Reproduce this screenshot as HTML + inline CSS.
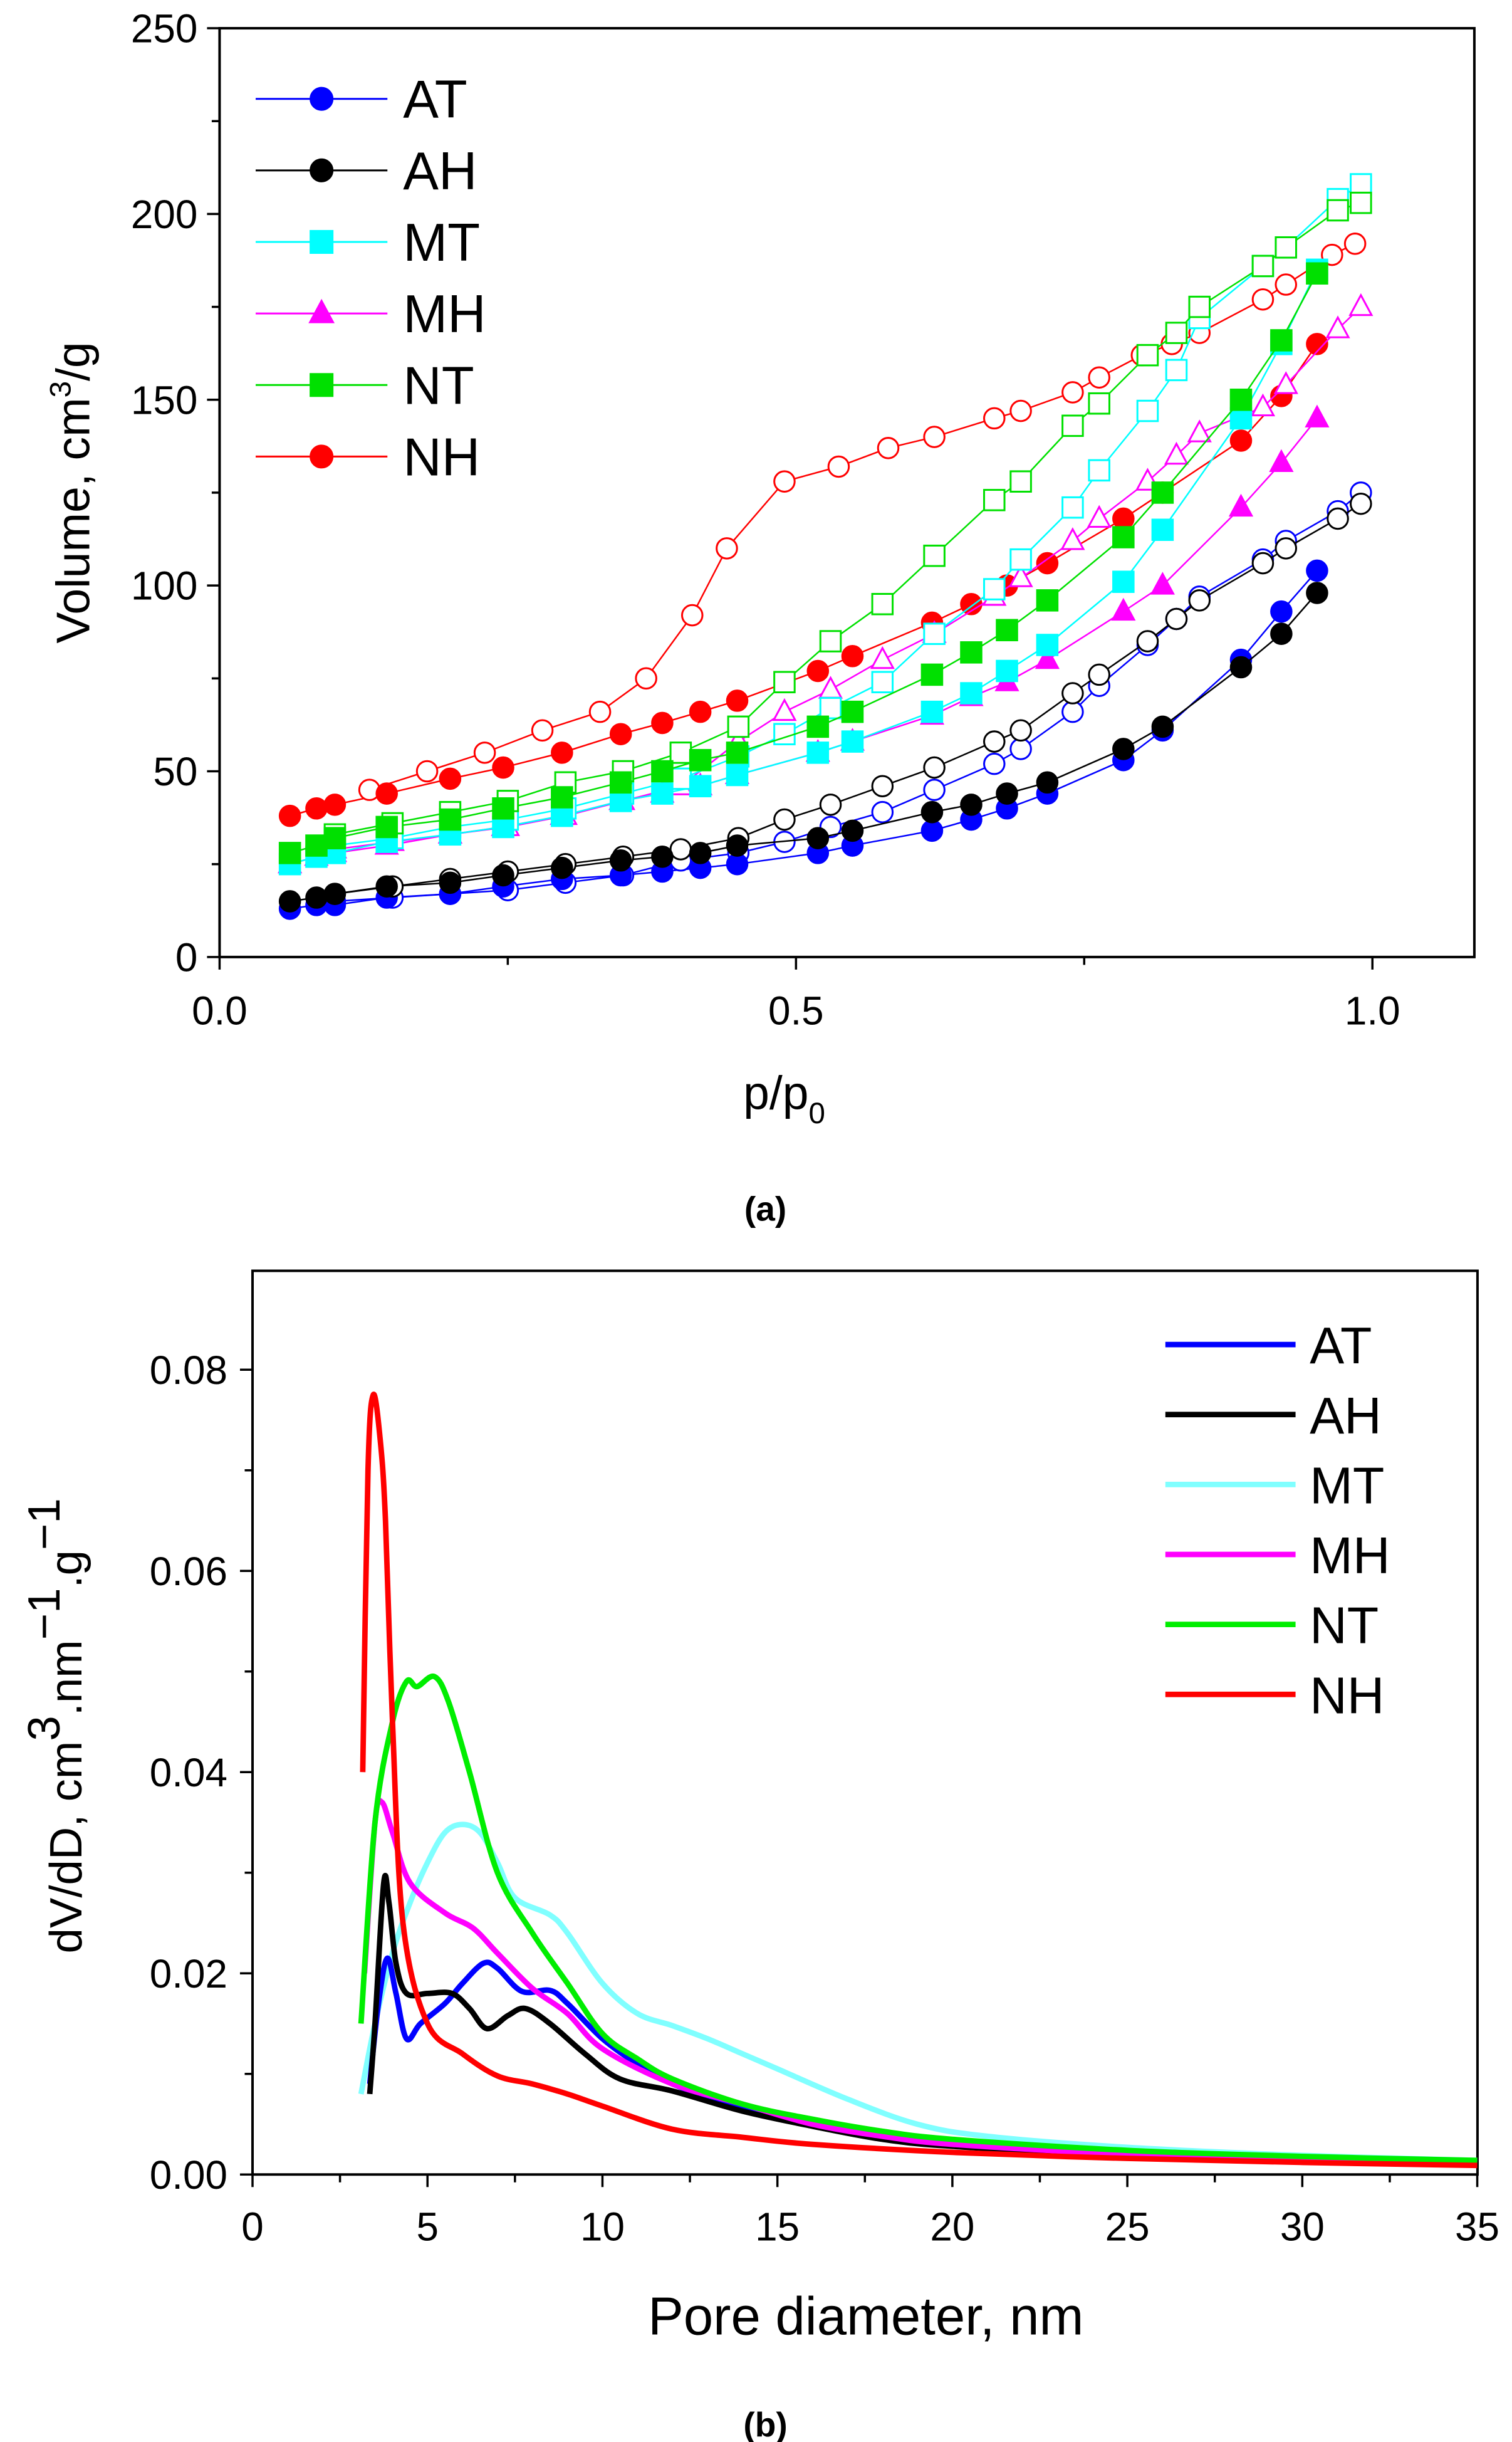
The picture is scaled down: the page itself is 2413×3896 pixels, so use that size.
<!DOCTYPE html>
<html><head><meta charset="utf-8"><style>
html,body{margin:0;padding:0;background:#fff}
svg{display:block}
text{font-family:"Liberation Sans",Arial,sans-serif}
</style></head><body>
<svg id="s" width="2413" height="3896" viewBox="0 0 964 1556.5" preserveAspectRatio="none" xmlns="http://www.w3.org/2000/svg">
<text x="488" y="778" text-anchor="middle" font-family="Liberation Serif" font-size="22" font-weight="bold">(a)</text>
<text x="488" y="1553" text-anchor="middle" font-family="Liberation Serif" font-size="22" font-weight="bold">(b)</text>
</svg>
<script>
// ---------- Chart A data ----------
const seriesNames=["AT","AH","MT","MH","NT","NH"];
const seriesColors=["#0000ff","#000000","#00ffff","#ff00ff","#00e000","#ff0000"];
const seriesMarkers=["circle","circle","square","triangle","square","circle"];
const adsP=[.061,.084,.100,.145,.200,.246,.297,.348,.384,.417,.449,.519,.549,.618,.652,.683,.718,.784,.818,.886,.921,.952];
const adsAT=[13,14,14,16,17,19,21,22,23,24,25,28,30,34,37,40,44,53,61,80,93,104];
const adsAH=[15,16,17,19,20,22,24,26,27,28,30,32,34,39,41,44,47,56,62,78,87,98];
const adsMT=[25,27,28,31,33,35,38,42,44,46,49,55,58,66,71,77,84,101,115,145,165,185];
const adsMH=[25,27,28,30,33,35,38,42,44,46,49,55,58,65,70,74,80,93,100,121,133,145];
const adsNT=[28,30,32,35,37,40,43,47,50,53,55,62,66,76,82,88,96,113,125,150,166,184];
const adsNH=[38,40,41,44,48,51,55,60,63,66,69,77,81,90,95,100,106,118,125,139,151,165];
const desP=[.99,.97,.925,.905,.85,.83,.805,.763,.74,.695,.672,.62,.575,.53,.49,.45,.40,.35,.30,.25,.20,.15,.10];
const desAT=[125,120,112,107,97,91,84,73,66,56,52,45,39,35,31,28,26,22,20,18,17,16,15];
const desAH=[122,118,110,106,96,91,85,76,71,61,58,51,46,41,37,32,29,27,25,23,21,19,17];
const desMT=[208,204,191,186,172,158,147,131,121,107,99,87,74,67,60,54,48,44,40,37,35,32,30];
const desMH=[175,169,154,148,141,135,128,118,112,102,97,87,80,72,66,58,46,42,38,35,33,31,29];
const desNT=[203,201,191,186,175,168,162,149,143,128,123,108,95,85,74,62,55,50,47,42,39,36,33];
const desNHp=[.985,.965,.925,.905,.85,.826,.80,.763,.74,.695,.672,.62,.58,.537,.49,.44,.41,.37,.33,.28,.23,.18,.13];
const desNH=[192,189,181,177,168,165,162,156,152,147,145,140,137,132,128,110,92,75,66,61,55,50,45];
const aYTicks=["0","50","100","150","200","250"];
const aXTicks=["0.0","0.5","1.0"];

// ---------- Chart B data ----------
const bAT_d=[3.35,3.6,3.85,4.1,4.4,4.8,5.5,6,6.6,7,7.7,8.5,9,10,11,12,14,16,18,20,25,30,35];
const bAT_v=[.009,.017,.0215,.018,.0135,.015,.017,.019,.021,.0205,.0182,.0183,.017,.0135,.011,.009,.0065,.005,.0037,.003,.002,.0015,.0012];
const bAH_d=[3.35,3.5,3.75,3.9,4.1,4.4,5,5.7,6.2,6.7,7.3,7.8,8.5,9.5,10.5,12,14,16,18,20,25,30,35];
const bAH_v=[.008,.015,.029,.027,.021,.018,.018,.018,.0165,.0145,.0158,.0165,.015,.012,.0095,.0083,.0063,.0048,.0035,.0028,.0019,.0014,.001];
const bMT_d=[3.1,3.5,4,4.5,5,5.5,6,6.5,7,7.5,8.5,9,10,11,12,13,14,15,17,19,21,25,30,35];
const bMT_v=[.008,.015,.022,.027,.031,.034,.0348,.034,.031,.0275,.0258,.024,.019,.016,.0148,.0135,.012,.0105,.0075,.005,.0038,.0027,.0019,.0014];
const bMH_d=[3.2,3.5,3.7,4,4.5,5.5,6.3,7,8,9,10,12,14,16,18,20,25,30,35];
const bMH_v=[.02,.035,.037,.034,.029,.026,.0245,.022,.0185,.016,.0125,.009,.007,.005,.0038,.003,.002,.0015,.0012];
const bNT_d=[3.1,3.5,4,4.4,4.7,5.2,5.6,6.2,7,8,9,10,11,12,14,16,18,20,25,30,35];
const bNT_v=[.015,.035,.045,.049,.0485,.0495,.047,.04,.03,.024,.019,.014,.0115,.0095,.007,.0055,.0043,.0035,.0024,.0018,.0014];
const bNH_d=[3.15,3.3,3.45,3.65,3.8,4.0,4.3,5,6,7,8,9,10,12,14,16,20,25,30,35];
const bNH_v=[.040,.070,.0775,.073,.065,.045,.025,.015,.012,.0098,.009,.008,.0068,.0045,.0037,.003,.0022,.0016,.0012,.0009];
const bColors=["#0000ff","#000000","#80ffff","#ff00ff","#00ee00","#ff0000"];
const bYTicks=["0.00","0.02","0.04","0.06","0.08"];
const bXTicks=["0","5","10","15","20","25","30","35"];

const NS="http://www.w3.org/2000/svg";
const svg=document.getElementById('s');
function mk(tag,attrs,parent){const e=document.createElementNS(NS,tag);for(const k in attrs)e.setAttribute(k,attrs[k]);(parent||svg).appendChild(e);return e;}

const AL=140,AR=940,AT_=18,AB=610;
const ax=p=>AL+p*735, ay=v=>AB-v*2.368;
const BL=161,BR=942,BT=810,BB=1386;
const bx=d=>BL+d*22.31, by=v=>BB-v*6412;

// ---- Chart A ----
const ga=mk('g',{});


let fr=mk('rect',{x:AL,y:AT_,width:AR-AL,height:AB-AT_,fill:'none',stroke:'#000','stroke-width':1.6},ga);

for(let v=0;v<=250;v+=25){const major=v%50===0;mk('line',{x1:AL-(major?8:5),x2:AL,y1:ay(v),y2:ay(v),stroke:'#000','stroke-width':1.4},ga);}
aYTicks.forEach(t=>{const e=mk('text',{x:AL-14,y:ay(+t)+9,'text-anchor':'end','font-size':25.5},ga);e.textContent=t;
});
for(let p=0;p<=1.0001;p+=0.25){const major=Math.abs(p*2-Math.round(p*2))<1e-6;mk('line',{x1:ax(p),x2:ax(p),y1:AB,y2:AB+(major?8:5),stroke:'#000','stroke-width':1.4},ga);}
aXTicks.forEach(t=>{const e=mk('text',{x:ax(+t),y:AB+43,'text-anchor':'middle','font-size':25.5},ga);e.textContent=t;
});
let yt=mk('text',{x:0,y:0,transform:'translate(57,314) rotate(-90)','text-anchor':'middle','font-size':30},ga);
yt.innerHTML='Volume, cm<tspan dy="-12" font-size="19">3</tspan><tspan dy="12">/g</tspan>';

let xt=mk('text',{x:500,y:707,'text-anchor':'middle','font-size':30},ga);
xt.innerHTML='p/p<tspan dy="9" font-size="19">0</tspan>';


function marker(g,type,x,y,color,filled,r){
  const fill=filled?color:'#fff';let e;
  if(type==='circle')e=mk('circle',{cx:x,cy:y,r:r,fill:fill,stroke:color,'stroke-width':1.2},g);
  else if(type==='square')e=mk('rect',{x:x-r,y:y-r,width:2*r,height:2*r,fill:fill,stroke:color,'stroke-width':1.2},g);
  else e=mk('polygon',{points:`${x},${y-r*1.15} ${x+r*1.05},${y+r*0.8} ${x-r*1.05},${y+r*0.8}`,fill:fill,stroke:color,'stroke-width':1.2},g);
  return e;
}
const adsAll=[adsAT,adsAH,adsMT,adsMH,adsNT,adsNH];
const desAll=[desAT,desAH,desMT,desMH,desNT,desNH];
const order=[5,0,1,3,2,4];
order.forEach(i=>{
  const g=mk('g',{},ga);
  
  
  const c=seriesColors[i];
  const dp=i===5?desNHp:desP;
  const dl=mk('polyline',{points:dp.map((p,k)=>ax(p)+','+ay(desAll[i][k])).join(' '),fill:'none',stroke:c,'stroke-width':1},g);
  
  const al=mk('polyline',{points:adsP.map((p,k)=>ax(p)+','+ay(adsAll[i][k])).join(' '),fill:'none',stroke:c,'stroke-width':1},g);
  
  dp.forEach((p,k)=>{const m=marker(g,seriesMarkers[i],ax(p),ay(desAll[i][k]),c,false,6.5);
    });
  adsP.forEach((p,k)=>{const m=marker(g,seriesMarkers[i],ax(p),ay(adsAll[i][k]),c,true,6.5);
    });
});
seriesNames.forEach((n,i)=>{
  const y=63+i*45.6;
  const g=mk('g',{},ga);
  
  
  mk('line',{x1:163,x2:247,y1:y,y2:y,stroke:seriesColors[i],'stroke-width':1.2},g);
  marker(g,seriesMarkers[i],205,y,seriesColors[i],true,7);
  const t=mk('text',{x:257,y:y+12,'font-size':34},g);t.textContent=n;
});

// ---- Chart B ----
const gb=mk('g',{});


fr=mk('rect',{x:BL,y:BT,width:BR-BL,height:BB-BT,fill:'none',stroke:'#000','stroke-width':1.6},gb);

for(let k=0;k<=8;k++){const v=k*0.01;const major=k%2===0;mk('line',{x1:BL-(major?8:5),x2:BL,y1:by(v),y2:by(v),stroke:'#000','stroke-width':1.4},gb);}
bYTicks.forEach(t=>{const e=mk('text',{x:BL-16,y:by(+t)+9,'text-anchor':'end','font-size':25.5},gb);e.textContent=t;
});
for(let k=0;k<=14;k++){const d=k*2.5;const major=k%2===0;mk('line',{x1:bx(d),x2:bx(d),y1:BB,y2:BB+(major?8:5),stroke:'#000','stroke-width':1.4},gb);}
bXTicks.forEach(t=>{const e=mk('text',{x:bx(+t),y:BB+42,'text-anchor':'middle','font-size':25.5},gb);e.textContent=t;
});
yt=mk('text',{x:0,y:0,transform:'translate(52,1100) rotate(-90)','text-anchor':'middle','font-size':29},gb);
yt.innerHTML='dV/dD, cm<tspan dy="-14">3</tspan><tspan dy="14">.nm</tspan><tspan dy="-14">−1</tspan><tspan dy="14">.g</tspan><tspan dy="-14">−1</tspan>';

xt=mk('text',{x:552,y:1488,'text-anchor':'middle','font-size':34},gb);xt.textContent='Pore diameter, nm';


function smooth(pts){
  let d='M'+pts[0][0]+','+pts[0][1];
  for(let i=0;i<pts.length-1;i++){
    const p0=pts[i-1]||pts[i],p1=pts[i],p2=pts[i+1],p3=pts[i+2]||p2;
    const c1=[p1[0]+(p2[0]-p0[0])/6,p1[1]+(p2[1]-p0[1])/6];
    const c2=[p2[0]-(p3[0]-p1[0])/6,p2[1]-(p3[1]-p1[1])/6];
    d+=`C${c1[0]},${c1[1]} ${c2[0]},${c2[1]} ${p2[0]},${p2[1]}`;
  }
  return d;
}
const bD=[bAT_d,bAH_d,bMT_d,bMH_d,bNT_d,bNH_d];
const bV=[bAT_v,bAH_v,bMT_v,bMH_v,bNT_v,bNH_v];
[2,0,1,3,4,5].forEach(i=>{
  const p=mk('path',{d:smooth(bD[i].map((d,k)=>[bx(d),by(bV[i][k])])),fill:'none',stroke:bColors[i],'stroke-width':3.5,'stroke-linejoin':'round'},gb);
  
  
});
seriesNames.forEach((n,i)=>{
  const y=857+i*44.6;
  const g=mk('g',{},gb);
  
  
  mk('line',{x1:743,x2:826,y1:y,y2:y,stroke:bColors[i],'stroke-width':3.5},g);
  const t=mk('text',{x:835,y:y+12,'font-size':33},g);t.textContent=n;
});
</script>
</body></html>
